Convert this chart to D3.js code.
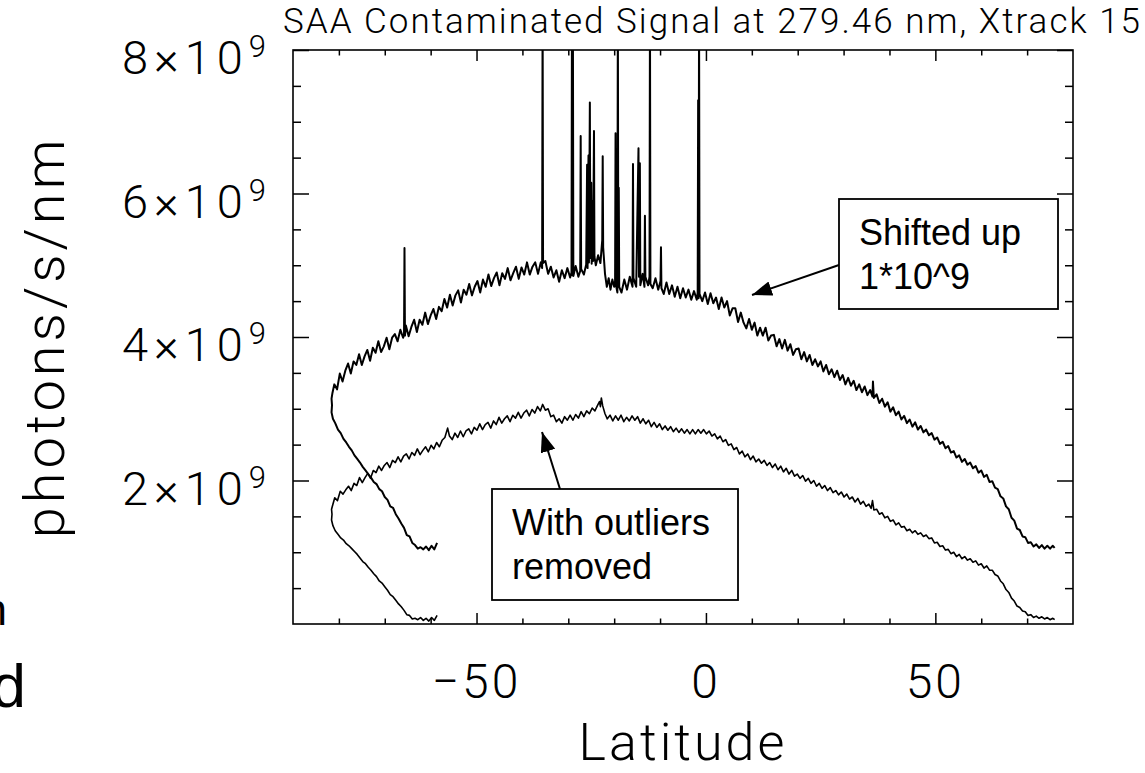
<!DOCTYPE html>
<html>
<head>
<meta charset="utf-8">
<script src="https://cdn.jsdelivr.net/npm/d3@7"></script>
<style>
  body { margin: 0; background: #fff; }
  svg { display: block; }
  .hershey { font-family: Roboto, "DejaVu Sans", sans-serif; font-weight: 300; fill: #000; }
  .note { font-family: "Liberation Sans", Arial, sans-serif; fill: #000; }
</style>
</head>
<body>
<svg id="chart" width="1145" height="773"></svg>
<script>
// ---- data (signal in units of 1e9 photons/s/nm) ----
var chartTitle = "SAA Contaminated Signal at 279.46 nm, Xtrack 15";
var xTitle = "Latitude";
var yTitle = "photons/s/nm";

var xMajor = [-50, 0, 50];
var xMinor = [-80, -70, -60, -40, -30, -20, -10, 10, 20, 30, 40, 60, 70];
var yMajor = [2, 4, 6, 8];
var yMinor = [0.5, 1, 1.5, 2.5, 3, 3.5, 4.5, 5, 5.5, 6.5, 7, 7.5];
var yTickMantissa = ["2", "4", "6", "8"];
var yTickExponent = "9";

var noteShifted = ["Shifted up", "1*10^9"];
var noteCleaned = ["With outliers", "removed"];

// raw signal, shifted up by 1e9 : [latitude, value], in orbit order
var rawShifted = [
  [-58.6,1.13],[-59.2,1.04],[-59.8,1.09],[-60.4,1.03],[-61.0,1.08],[-61.6,1.04],[-62.2,1.07],[-62.8,1.05],[-63.4,1.10],[-64.0,1.13],
  [-64.6,1.22],[-65.2,1.24],[-65.8,1.34],[-66.4,1.40],[-67.0,1.47],[-67.6,1.53],[-68.2,1.62],[-68.8,1.64],[-69.4,1.73],[-70.0,1.77],
  [-70.6,1.85],[-71.2,1.88],[-71.8,1.95],[-72.4,1.98],[-73.0,2.04],[-73.6,2.09],[-74.2,2.14],[-74.8,2.19],[-75.4,2.25],[-76.0,2.30],
  [-76.6,2.35],[-77.2,2.42],[-77.8,2.47],[-78.4,2.53],[-79.0,2.58],[-79.6,2.66],[-80.2,2.71],[-80.8,2.80],[-81.3,2.86],[-81.6,2.95],
  [-81.5,3.05],[-81.6,3.14],[-81.4,3.22],
  [-81.0,3.34],[-80.4,3.27],[-79.8,3.49],[-79.2,3.38],[-78.6,3.53],[-78.0,3.63],[-77.4,3.49],[-76.8,3.66],[-76.2,3.61],[-75.6,3.76],
  [-75.0,3.61],[-74.4,3.73],[-73.8,3.82],[-73.2,3.67],[-72.6,3.85],[-72.0,3.78],[-71.4,3.94],[-70.8,3.79],[-70.2,3.87],[-69.6,3.99],
  [-69.0,3.83],[-68.4,3.99],[-67.8,4.04],[-67.2,3.94],[-66.6,4.10],[-66.0,3.99],[-65.8,4.03],[-65.7,5.24],[-65.6,4.02],[-65.4,4.16],
  [-64.8,4.01],[-64.2,4.14],[-63.6,4.24],[-63.0,4.07],[-62.4,4.24],[-61.8,4.17],[-61.2,4.34],[-60.6,4.18],[-60.0,4.30],[-59.4,4.39],
  [-58.8,4.25],[-58.2,4.42],[-57.6,4.36],[-57.0,4.53],[-56.4,4.41],[-55.8,4.59],[-55.2,4.44],[-54.6,4.58],[-54.0,4.65],[-53.4,4.48],
  [-52.8,4.66],[-52.2,4.59],[-51.6,4.74],[-51.0,4.58],[-50.4,4.70],[-49.8,4.78],[-49.2,4.62],[-48.6,4.80],[-48.0,4.70],[-47.4,4.87],
  [-46.8,4.71],[-46.2,4.82],[-45.6,4.90],[-45.0,4.72],[-44.4,4.89],[-43.8,4.81],[-43.2,4.96],[-42.6,4.79],[-42.0,4.89],[-41.4,4.98],
  [-40.8,4.81],[-40.2,4.97],[-39.6,4.87],[-39.0,5.04],[-38.4,4.87],[-37.8,4.98],[-37.2,5.04],[-36.6,4.88],[-36.0,5.04],[-35.7,4.96],
  [-35.6,8.6],[-35.5,5.03],[-35.0,5.06],[-34.4,4.88],[-33.8,4.98],[-33.2,4.83],[-32.6,4.93],[-32.0,4.77],[-31.4,4.93],[-30.8,4.82],
  [-30.2,4.96],[-29.6,4.83],[-29.3,4.90],[-29.2,8.6],[-29.1,4.86],[-29.0,8.6],[-28.9,4.85],[-28.4,4.99],[-27.8,4.84],[-27.4,4.92],
  [-27.3,6.80],[-27.2,4.95],[-26.6,4.87],[-26.1,5.01],[-25.9,6.40],[-25.8,4.96],[-25.6,6.53],[-25.5,5.04],[-25.3,7.27],[-25.2,5.10],
  [-25.0,6.15],[-24.9,5.02],[-24.7,5.90],[-24.6,5.06],[-24.4,6.87],[-24.3,5.12],[-24.0,5.00],[-23.5,5.14],[-23.0,5.03],[-22.6,5.35],
  [-22.5,6.52],[-22.4,5.25],[-22.0,4.88],[-21.6,4.70],[-21.2,4.82],[-20.8,4.66],[-20.4,4.80],[-20.0,4.70],[-19.8,4.78],[-19.7,6.84],
  [-19.6,4.72],[-19.3,4.62],[-19.2,8.6],[-19.1,4.82],[-19.0,6.08],[-18.9,4.70],[-18.4,4.62],[-17.8,4.80],[-17.2,4.66],[-16.6,4.84],
  [-16.0,4.70],[-15.9,6.41],[-15.8,4.82],[-15.2,4.70],[-14.7,6.63],[-14.6,4.84],[-14.4,6.42],[-14.3,4.72],[-13.8,4.88],[-13.4,4.70],
  [-13.3,5.69],[-13.2,4.84],[-12.6,4.72],[-12.3,4.84],[-12.2,8.6],[-12.1,4.74],[-11.6,4.68],[-11.0,4.82],[-10.4,4.66],[-9.9,4.78],
  [-9.8,5.25],[-9.7,4.68],[-9.2,4.60],[-8.6,4.76],[-8.0,4.60],[-7.4,4.72],[-6.8,4.56],[-6.2,4.70],[-5.6,4.54],[-5.0,4.68],
  [-4.4,4.55],[-3.8,4.66],[-3.2,4.52],[-2.6,4.64],[-2.0,4.52],[-1.8,4.62],[-1.7,7.30],[-1.6,4.54],[-1.5,8.6],[-1.4,4.60],
  [-0.8,4.50],[-0.2,4.62],[0.4,4.46],[1.0,4.61],[1.6,4.47],[2.2,4.55],[2.8,4.39],[3.4,4.55],[4.0,4.41],[4.6,4.50],
  [5.2,4.30],[5.8,4.40],[6.4,4.40],[7.0,4.21],[7.6,4.34],[8.2,4.20],[8.8,4.12],[9.4,4.25],[10.0,4.10],[10.6,4.20],
  [11.2,4.02],[11.8,4.13],[12.4,4.02],[13.0,4.13],[13.6,3.95],[14.2,4.02],[14.8,4.03],[15.4,3.87],[16.0,3.97],[16.6,3.84],
  [17.2,3.96],[17.8,3.81],[18.4,3.90],[19.0,3.75],[19.6,3.83],[20.2,3.84],[20.8,3.69],[21.4,3.79],[22.0,3.66],[22.6,3.75],
  [23.2,3.61],[23.8,3.69],[24.4,3.59],[25.0,3.66],[25.6,3.52],[26.2,3.61],[26.8,3.48],[27.4,3.55],[28.0,3.44],[28.6,3.53],
  [29.2,3.40],[29.8,3.47],[30.4,3.34],[31.0,3.43],[31.6,3.32],[32.2,3.39],[32.8,3.26],[33.4,3.34],[34.0,3.23],[34.6,3.31],
  [35.2,3.19],[35.8,3.26],[36.3,3.17],[36.4,3.38],[36.6,3.15],[37.2,3.20],[37.8,3.08],[38.4,3.14],[39.0,3.03],[39.6,3.09],
  [40.2,2.96],[40.8,3.02],[41.4,2.91],[42.0,2.96],[42.6,2.85],[43.2,2.90],[43.8,2.80],[44.4,2.85],[45.0,2.75],[45.6,2.81],
  [46.2,2.71],[46.8,2.76],[47.4,2.67],[48.0,2.71],[48.6,2.63],[49.2,2.66],[49.8,2.57],[50.4,2.60],[51.0,2.51],[51.6,2.54],
  [52.2,2.45],[52.8,2.48],[53.4,2.39],[54.0,2.41],[54.6,2.32],[55.2,2.35],[55.8,2.26],[56.4,2.30],[57.0,2.22],[57.6,2.25],
  [58.2,2.17],[58.8,2.20],[59.4,2.11],[60.0,2.14],[60.6,2.05],[61.2,2.08],[61.8,1.98],[62.4,1.99],[63.0,1.90],[63.6,1.88],
  [64.2,1.78],[64.8,1.75],[65.4,1.64],[66.0,1.60],[66.6,1.48],[67.2,1.44],[67.8,1.33],[68.4,1.31],[69.0,1.22],[69.6,1.21],
  [70.2,1.13],[70.8,1.14],[71.4,1.08],[72.0,1.11],[72.6,1.06],[73.2,1.10],[73.8,1.05],[74.4,1.09],[75.0,1.05],[75.6,1.09],[76.0,1.06]
];

// same orbit with outliers removed (not shifted) : [latitude, value]
var cleaned = [
  [-58.6,0.12],[-59.2,0.05],[-59.8,0.09],[-60.4,0.04],[-61.0,0.08],[-61.6,0.05],[-62.2,0.09],[-62.8,0.06],[-63.4,0.08],[-64.0,0.07],
  [-64.6,0.12],[-65.2,0.13],[-65.8,0.19],[-66.4,0.24],[-67.0,0.28],[-67.6,0.33],[-68.2,0.38],[-68.8,0.41],[-69.4,0.47],[-70.0,0.52],
  [-70.6,0.57],[-71.2,0.60],[-71.8,0.66],[-72.4,0.70],[-73.0,0.75],[-73.6,0.79],[-74.2,0.84],[-74.8,0.87],[-75.4,0.92],[-76.0,0.97],
  [-76.6,1.01],[-77.2,1.05],[-77.8,1.09],[-78.4,1.12],[-79.0,1.17],[-79.6,1.20],[-80.2,1.25],[-80.8,1.30],[-81.3,1.37],[-81.6,1.45],
  [-81.5,1.53],[-81.6,1.60],[-81.3,1.67],
  [-80.9,1.76],[-80.3,1.72],[-79.7,1.85],[-79.1,1.81],[-78.5,1.87],[-77.9,1.92],[-77.3,1.86],[-76.7,1.96],[-76.1,1.93],[-75.5,2.04],
  [-74.9,1.97],[-74.3,2.04],[-73.7,2.10],[-73.1,2.03],[-72.5,2.14],[-71.9,2.11],[-71.3,2.20],[-70.7,2.14],[-70.1,2.21],[-69.5,2.25],
  [-68.9,2.18],[-68.3,2.28],[-67.7,2.25],[-67.1,2.33],[-66.5,2.26],[-65.9,2.34],[-65.3,2.37],[-64.7,2.30],[-64.1,2.39],[-63.5,2.35],
  [-62.9,2.44],[-62.3,2.36],[-61.7,2.42],[-61.1,2.47],[-60.5,2.40],[-59.9,2.49],[-59.3,2.44],[-58.7,2.53],[-58.1,2.47],[-57.5,2.56],
  [-56.9,2.60],[-56.3,2.73],[-55.9,2.62],[-55.3,2.57],[-54.7,2.66],[-54.1,2.60],[-53.5,2.69],[-52.9,2.61],[-52.3,2.69],[-51.7,2.72],
  [-51.1,2.65],[-50.5,2.74],[-49.9,2.70],[-49.3,2.79],[-48.7,2.71],[-48.1,2.78],[-47.5,2.81],[-46.9,2.73],[-46.3,2.83],[-45.7,2.78],
  [-45.1,2.88],[-44.5,2.80],[-43.9,2.86],[-43.3,2.90],[-42.7,2.82],[-42.1,2.91],[-41.5,2.87],[-40.9,2.95],[-40.3,2.87],[-39.7,2.94],
  [-39.1,2.98],[-38.5,2.90],[-37.9,2.99],[-37.3,2.94],[-36.7,3.03],[-36.1,2.97],[-35.6,3.06],[-35.0,2.98],[-34.4,3.00],[-33.8,2.89],
  [-33.2,2.91],[-32.6,2.82],[-32.0,2.86],[-31.4,2.80],[-30.8,2.89],[-30.2,2.84],[-29.6,2.91],[-29.0,2.84],[-28.4,2.92],[-27.8,2.87],
  [-27.2,2.96],[-26.6,2.89],[-26.0,2.97],[-25.4,2.93],[-24.8,3.01],[-24.2,2.97],[-23.6,3.05],[-23.2,3.10],[-23.0,3.03],[-22.8,3.15],
  [-22.5,3.04],[-22.0,2.93],[-21.5,2.86],[-20.9,2.91],[-20.3,2.83],[-19.7,2.90],[-19.1,2.84],[-18.5,2.91],[-17.9,2.82],[-17.3,2.88],
  [-16.7,2.83],[-16.1,2.90],[-15.5,2.84],[-14.9,2.89],[-14.3,2.80],[-13.7,2.86],[-13.1,2.79],[-12.5,2.84],[-11.9,2.75],[-11.3,2.81],
  [-10.7,2.74],[-10.1,2.79],[-9.5,2.71],[-8.9,2.76],[-8.3,2.70],[-7.7,2.75],[-7.1,2.68],[-6.5,2.73],[-5.9,2.67],[-5.3,2.72],
  [-4.7,2.66],[-4.1,2.71],[-3.5,2.65],[-2.9,2.71],[-2.3,2.65],[-1.7,2.71],[-1.1,2.66],[-0.5,2.71],[0.1,2.65],[0.7,2.69],
  [1.3,2.62],[1.9,2.65],[2.5,2.58],[3.1,2.62],[3.7,2.54],[4.3,2.57],[4.9,2.49],[5.5,2.51],[6.1,2.43],[6.7,2.46],
  [7.3,2.37],[7.9,2.41],[8.5,2.33],[9.1,2.37],[9.7,2.29],[10.3,2.34],[10.9,2.26],[11.5,2.30],[12.1,2.24],[12.7,2.28],
  [13.3,2.21],[13.9,2.25],[14.5,2.18],[15.1,2.23],[15.7,2.15],[16.3,2.20],[16.9,2.12],[17.5,2.17],[18.1,2.09],[18.7,2.14],
  [19.3,2.06],[19.9,2.09],[20.5,2.03],[21.1,2.07],[21.7,1.99],[22.3,2.03],[22.9,1.96],[23.5,2.00],[24.1,1.92],[24.7,1.96],
  [25.3,1.89],[25.9,1.93],[26.5,1.86],[27.1,1.90],[27.7,1.83],[28.3,1.86],[28.9,1.80],[29.5,1.84],[30.1,1.77],[30.7,1.81],
  [31.3,1.74],[31.9,1.77],[32.5,1.70],[33.1,1.75],[33.7,1.67],[34.3,1.71],[34.9,1.64],[35.5,1.67],[36.0,1.61],[36.3,1.72],
  [36.6,1.59],[37.2,1.60],[37.8,1.53],[38.4,1.55],[39.0,1.48],[39.6,1.50],[40.2,1.43],[40.8,1.45],[41.4,1.38],[42.0,1.41],
  [42.6,1.35],[43.2,1.36],[43.8,1.30],[44.4,1.32],[45.0,1.27],[45.6,1.30],[46.2,1.25],[46.8,1.27],[47.4,1.22],[48.0,1.24],
  [48.6,1.19],[49.2,1.20],[49.8,1.13],[50.4,1.14],[51.0,1.08],[51.6,1.09],[52.2,1.03],[52.8,1.04],[53.4,0.98],[54.0,1.00],
  [54.6,0.94],[55.2,0.97],[55.8,0.91],[56.4,0.94],[57.0,0.89],[57.6,0.91],[58.2,0.86],[58.8,0.88],[59.4,0.82],[60.0,0.84],
  [60.6,0.78],[61.2,0.81],[61.8,0.75],[62.4,0.75],[63.0,0.69],[63.6,0.67],[64.2,0.60],[64.8,0.56],[65.4,0.48],[66.0,0.44],
  [66.6,0.36],[67.2,0.32],[67.8,0.25],[68.4,0.23],[69.0,0.18],[69.6,0.17],[70.2,0.12],[70.8,0.13],[71.4,0.09],[72.0,0.11],
  [72.6,0.08],[73.2,0.10],[73.8,0.07],[74.4,0.09],[75.0,0.06],[75.6,0.08],[76.0,0.06]
];

// ---- layout ----
var plotLeft = 293, plotRight = 1073, plotTop = 50, plotBottom = 624;

var svg = d3.select("#chart");

var x = d3.scaleLinear().domain([-90, 80]).range([plotLeft, plotRight]);
var y = d3.scaleLinear().domain([0, 8]).range([plotBottom, plotTop]);

var defs = svg.append("defs");
defs.append("clipPath").attr("id", "plotClip")
    .append("rect")
    .attr("x", plotLeft).attr("y", plotTop)
    .attr("width", plotRight - plotLeft).attr("height", plotBottom - plotTop);

// data lines
var line = d3.line()
    .x(function(d) { return x(d[0]); })
    .y(function(d) { return y(d[1]); });

var lines = svg.append("g").attr("clip-path", "url(#plotClip)");
lines.append("path").datum(rawShifted)
    .attr("d", line).attr("fill", "none")
    .attr("stroke", "#000").attr("stroke-width", 2)
    .attr("stroke-linejoin", "round");
lines.append("path").datum(cleaned)
    .attr("d", line).attr("fill", "none")
    .attr("stroke", "#000").attr("stroke-width", 1.6)
    .attr("stroke-linejoin", "round");

// axes: IDL style ticks pointing inward on all four sides
function styleAxis(g) {
    g.select(".domain").remove();
    g.selectAll(".tick line").attr("stroke", "#000").attr("stroke-width", 1.5);
    g.selectAll(".tick text").remove();
}

svg.append("g").attr("transform", "translate(0," + plotBottom + ")")
    .call(d3.axisBottom(x).tickValues(xMajor).tickSize(-11).tickSizeOuter(0)).call(styleAxis);
svg.append("g").attr("transform", "translate(0," + plotBottom + ")")
    .call(d3.axisBottom(x).tickValues(xMinor).tickSize(-5.5).tickSizeOuter(0)).call(styleAxis);
svg.append("g").attr("transform", "translate(0," + plotTop + ")")
    .call(d3.axisTop(x).tickValues(xMajor).tickSize(-11).tickSizeOuter(0)).call(styleAxis);
svg.append("g").attr("transform", "translate(0," + plotTop + ")")
    .call(d3.axisTop(x).tickValues(xMinor).tickSize(-5.5).tickSizeOuter(0)).call(styleAxis);

svg.append("g").attr("transform", "translate(" + plotLeft + ",0)")
    .call(d3.axisLeft(y).tickValues(yMajor).tickSize(-16).tickSizeOuter(0)).call(styleAxis);
svg.append("g").attr("transform", "translate(" + plotLeft + ",0)")
    .call(d3.axisLeft(y).tickValues(yMinor).tickSize(-8).tickSizeOuter(0)).call(styleAxis);
svg.append("g").attr("transform", "translate(" + plotRight + ",0)")
    .call(d3.axisRight(y).tickValues(yMajor).tickSize(-16).tickSizeOuter(0)).call(styleAxis);
svg.append("g").attr("transform", "translate(" + plotRight + ",0)")
    .call(d3.axisRight(y).tickValues(yMinor).tickSize(-8).tickSizeOuter(0)).call(styleAxis);

// frame
svg.append("rect")
    .attr("x", plotLeft).attr("y", plotTop)
    .attr("width", plotRight - plotLeft).attr("height", plotBottom - plotTop)
    .attr("fill", "none").attr("stroke", "#000").attr("stroke-width", 1.6);

// x tick labels
svg.append("g").selectAll("text")
    .data(xMajor)
    .join("text")
    .attr("class", "hershey")
    .attr("x", function(d) { return x(d); })
    .attr("y", plotBottom + 74)
    .attr("text-anchor", "middle")
    .attr("font-size", 48)
    .attr("letter-spacing", 3)
    .text(function(d) { return d3.format("")(d); });

// y tick labels with superscript exponent
var yLabels = svg.append("g").selectAll("text")
    .data(yMajor)
    .join("text")
    .attr("class", "hershey")
    .attr("x", 272)
    .attr("y", function(d) { return y(d) + 24; })
    .attr("text-anchor", "end")
    .attr("font-size", 47)
    .attr("letter-spacing", 6);
yLabels.append("tspan")
    .text(function(d, i) { return yTickMantissa[i] + "\u00d710"; });
yLabels.append("tspan")
    .attr("dy", -17).attr("font-size", 31)
    .text(yTickExponent);

// titles
svg.append("text")
    .attr("class", "hershey")
    .attr("x", 283).attr("y", 33)
    .attr("font-size", 35)
    .attr("textLength", 857).attr("lengthAdjust", "spacing")
    .text(chartTitle);

svg.append("text")
    .attr("class", "hershey")
    .attr("x", (plotLeft + plotRight) / 2).attr("y", 760)
    .attr("text-anchor", "middle")
    .attr("font-size", 52)
    .attr("letter-spacing", 3)
    .text(xTitle);

svg.append("text")
    .attr("class", "hershey")
    .attr("transform", "translate(64," + ((plotTop + plotBottom) / 2) + ") rotate(-90)")
    .attr("text-anchor", "middle")
    .attr("font-size", 56)
    .attr("letter-spacing", 4)
    .text(yTitle);

// leftovers of slide text cut by the left edge
svg.append("text").attr("class", "note")
    .attr("x", 7).attr("y", 625).attr("text-anchor", "end")
    .attr("font-size", 44).text("n");
svg.append("text").attr("class", "note")
    .attr("x", 26).attr("y", 707).attr("text-anchor", "end")
    .attr("font-size", 62).text("d");

// annotation arrows
defs.append("marker")
    .attr("id", "head")
    .attr("markerUnits", "userSpaceOnUse")
    .attr("markerWidth", 22).attr("markerHeight", 16)
    .attr("refX", 20).attr("refY", 7.5)
    .attr("orient", "auto")
    .append("path")
    .attr("d", "M0,0 L20,7.5 L0,15 Z")
    .attr("fill", "#000");

svg.append("line")
    .attr("x1", 839).attr("y1", 265).attr("x2", 752).attr("y2", 295)
    .attr("stroke", "#000").attr("stroke-width", 2)
    .attr("marker-end", "url(#head)");
svg.append("line")
    .attr("x1", 560).attr("y1", 489).attr("x2", 542).attr("y2", 432)
    .attr("stroke", "#000").attr("stroke-width", 2)
    .attr("marker-end", "url(#head)");

// annotation boxes
function noteBox(x0, y0, w, h, lines) {
    var g = svg.append("g");
    g.append("rect")
        .attr("x", x0).attr("y", y0).attr("width", w).attr("height", h)
        .attr("fill", "#fff").attr("stroke", "#000").attr("stroke-width", 1.8);
    g.selectAll("text").data(lines).join("text")
        .attr("class", "note")
        .attr("x", x0 + 20)
        .attr("y", function(d, i) { return y0 + 46 + i * 44; })
        .attr("font-size", 36)
        .text(function(d) { return d; });
}
noteBox(839, 199, 219, 110, noteShifted);
noteBox(492, 489, 246, 111, noteCleaned);
</script>
</body>
</html>
